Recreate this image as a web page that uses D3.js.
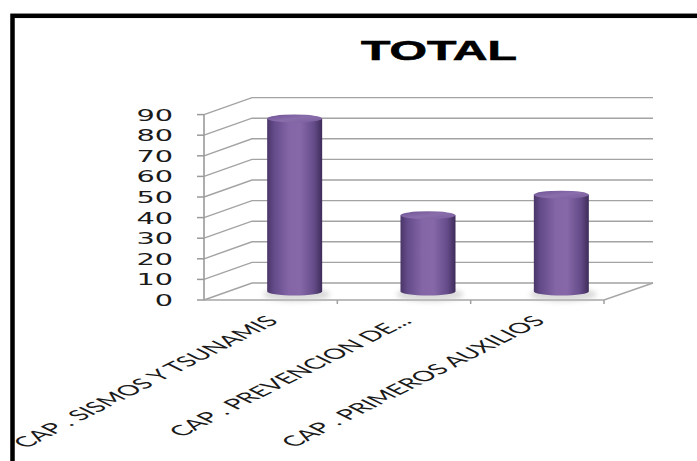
<!DOCTYPE html>
<html>
<head>
<meta charset="utf-8">
<script src="https://cdn.jsdelivr.net/npm/d3@7"></script>
<style>
html,body{margin:0;padding:0;background:#fff;}
svg{display:block;}
</style>
</head>
<body>
<svg id="chart" width="697" height="461"></svg>
<script>
// ---- data ----
const categories = ["CAP . SISMOS Y TSUNAMIS", "CAP . PREVENCION DE...", "CAP . PRIMEROS AUXILIOS"];
const values = [84, 37, 47];
const yTicks = [0, 10, 20, 30, 40, 50, 60, 70, 80, 90];
const title = "TOTAL";

const svg = d3.select("#chart");

// frame
svg.append("rect").attr("x", 12.5).attr("y", 15.8).attr("width", 760).attr("height", 520)
  .attr("fill", "#fff").attr("stroke", "#000").attr("stroke-width", 4.5);

// defs
const defs = svg.append("defs");
const g1 = defs.append("linearGradient").attr("id", "cyl").attr("x1", "0").attr("x2", "1").attr("y1", "0").attr("y2", "0");
[[0, "#4a3669"], [0.12, "#634a88"], [0.4, "#8466a7"], [0.6, "#8668a8"], [0.85, "#654c89"], [1, "#3e2c5a"]]
  .forEach(([o, c]) => g1.append("stop").attr("offset", o).attr("stop-color", c));
const g2 = defs.append("linearGradient").attr("id", "cyltop").attr("x1", "0").attr("x2", "1").attr("y1", "0").attr("y2", "1");
[[0, "#6e5394"], [0.5, "#8a6dab"], [1, "#7a5e9d"]]
  .forEach(([o, c]) => g2.append("stop").attr("offset", o).attr("stop-color", c));
const blur = defs.append("filter").attr("id", "blur").attr("x", "-50%").attr("y", "-50%").attr("width", "200%").attr("height", "200%");
blur.append("feGaussianBlur").attr("stdDeviation", 2.5);

// geometry
const x0 = 204, x1 = 604;
const depthX = 48, depthY = -17;
const x = d3.scaleBand().domain(categories).range([x0, x1]);
const y = d3.scaleLinear().domain([0, 90]).range([300, 114.6]);
const backRight = 653;

// title
svg.append("g").attr("transform", "translate(439,60) scale(1.72,1)")
  .append("text").attr("text-anchor", "middle")
  .attr("font-family", "Liberation Sans, Arial, sans-serif").attr("font-weight", "bold")
  .attr("font-size", 28).attr("fill", "#000").attr("stroke", "#000").attr("stroke-width", 0.6)
  .text(title);

// gridlines (left wall slant + back wall)
svg.append("g").selectAll("path").data(yTicks).join("path")
  .attr("d", v => `M${x0},${y(v)}L${x0 + depthX},${y(v) + depthY}L${backRight},${y(v) + depthY}`)
  .attr("fill", "none").attr("stroke", "#a3a3a3").attr("stroke-width", 1.4);

// floor front and right edge
svg.append("path")
  .attr("d", `M${x0},${y(0)}L${x1},${y(0)}L${backRight},${y(0) + depthY}`)
  .attr("fill", "none").attr("stroke", "#a6a6a6").attr("stroke-width", 1.5);

// category ticks
svg.append("g").selectAll("line").data(categories).join("line")
  .attr("x1", d => x(d) + x.bandwidth()).attr("x2", d => x(d) + x.bandwidth())
  .attr("y1", y(0)).attr("y2", y(0) + 4)
  .attr("stroke", "#a0a0a0").attr("stroke-width", 1.5);

// cylinders
const cw = 55, ry = 4;
const bars = svg.append("g").selectAll("g").data(categories.map((c, i) => ({ c, v: values[i] }))).join("g");
bars.each(function (d) {
  const g = d3.select(this);
  const cx = x(d.c) + x.bandwidth() / 2 + depthX / 2;
  const base = y(0) + depthY / 2;
  const top = y(d.v) + depthY / 2;
  const rx = cw / 2;
  g.append("ellipse").attr("cx", cx + 2).attr("cy", base + 3).attr("rx", rx + 6).attr("ry", ry + 3)
    .attr("fill", "#bdbdbd").attr("opacity", 0.55).attr("filter", "url(#blur)");
  g.append("path")
    .attr("d", `M${cx - rx},${top}L${cx - rx},${base}A${rx},${ry} 0 0 0 ${cx + rx},${base}L${cx + rx},${top}Z`)
    .attr("fill", "url(#cyl)");
  g.append("ellipse").attr("cx", cx).attr("cy", top).attr("rx", rx).attr("ry", ry)
    .attr("fill", "url(#cyltop)");
});

// y axis
svg.append("line").attr("x1", x0).attr("x2", x0).attr("y1", y(0)).attr("y2", y(90))
  .attr("stroke", "#9a9a9a").attr("stroke-width", 1.6);
svg.append("g").selectAll("line").data(yTicks).join("line")
  .attr("x1", x0 - 7).attr("x2", x0).attr("y1", d => y(d)).attr("y2", d => y(d))
  .attr("stroke", "#9a9a9a").attr("stroke-width", 1.5);
svg.append("g").selectAll("g").data(yTicks).join("g")
  .attr("transform", d => `translate(173,${y(d) + 6}) scale(1.8,1)`)
  .append("text").attr("text-anchor", "end")
  .attr("font-family", "DejaVu Sans, Verdana, sans-serif").attr("font-size", 16)
  .attr("fill", "#1a1a1a").text(d => d);

// category labels (rotated, horizontally stretched)
svg.append("g").selectAll("g").data(categories).join("g")
  .attr("transform", d => `translate(${x(d) + x.bandwidth() / 2 + 9},322) scale(2,1) rotate(-45)`)
  .append("text").attr("text-anchor", "end")
  .attr("font-family", "Lato, Open Sans, sans-serif").attr("font-size", 14.5)
  .attr("fill", "#1a1a1a").text(d => d);
</script>
</body>
</html>
